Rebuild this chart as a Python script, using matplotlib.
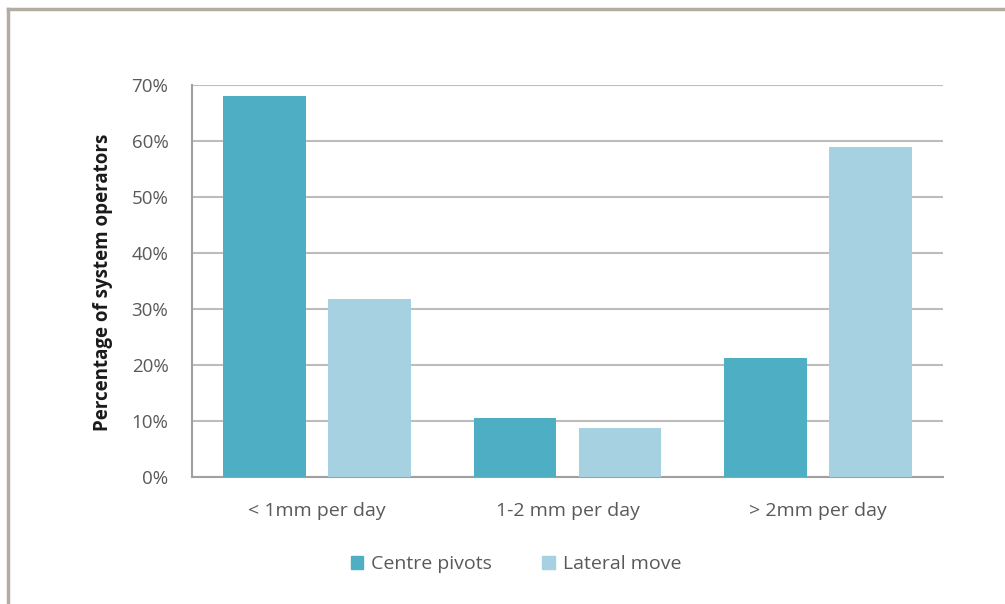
import numpy as np
import matplotlib.pyplot as plt
from matplotlib.lines import Line2D
from matplotlib.patches import Patch

categories = ['< 1mm per day', '1-2 mm per day', '> 2mm per day']
centre_pivots = [68, 10.5, 21.3]
lateral_move = [31.7, 8.7, 58.9]
yticks = [0, 10, 20, 30, 40, 50, 60, 70]

c_centre = '#4daec4'
c_lateral = '#a6d1e0'
grid_c = '#bdbdbd'
txt_c = '#595959'

plt.rcParams['font.family'] = ['Open Sans', 'DejaVu Sans']

fig = plt.figure(figsize=(10.05, 6.04), dpi=100)
ax = fig.add_axes([192/1005, 1-477/604, 751/1005, 392/604])

x = np.arange(len(categories))
w = 0.33
gap = 0.09
ax.bar(x - (w+gap)/2, centre_pivots, w, color=c_centre, zorder=3)
ax.bar(x + (w+gap)/2, lateral_move, w, color=c_lateral, zorder=3)

ax.set_xlim(-0.5, 2.5)
ax.set_ylim(0, 70)
ax.set_yticks(yticks)
ax.set_yticklabels([f'{v}%' for v in yticks], fontsize=13.5, color=txt_c)
ax.set_xticks(x)
ax.set_xticklabels(categories, fontsize=14, color=txt_c)
ax.tick_params(axis='y', length=0, pad=17)
ax.tick_params(axis='x', length=0, pad=18)
ax.yaxis.grid(True, color=grid_c, linewidth=1.5, zorder=0)
for s in ['top', 'right']:
    ax.spines[s].set_visible(False)
for s in ['left', 'bottom']:
    ax.spines[s].set_color('#a0a0a0')
    ax.spines[s].set_linewidth(1.5)

fig.text(103/1005, 1-282/604, 'Percentage of system operators', rotation=90,
         ha='center', va='center', fontsize=13.5, fontweight='bold', color='#1a1a1a')

handles = [Patch(color=c_centre, label='Centre pivots'),
           Patch(color=c_lateral, label='Lateral move')]
fig.legend(handles=handles, loc='center', bbox_to_anchor=(516/1005, 1-564/604),
           ncol=2, frameon=False, fontsize=14, handlelength=0.65, handleheight=0.65,
           handletextpad=0.4, columnspacing=2.6, labelcolor=txt_c)

# outer frame (left and top edges)
fig.add_artist(Line2D([8/1005, 8/1005], [0, 1-9/604], transform=fig.transFigure,
                      color='#b3aca2', linewidth=2.5))
fig.add_artist(Line2D([8/1005, 1], [1-9/604, 1-9/604], transform=fig.transFigure,
                      color='#b3aca2', linewidth=2.5))

fig.savefig('out.png', dpi=100)
